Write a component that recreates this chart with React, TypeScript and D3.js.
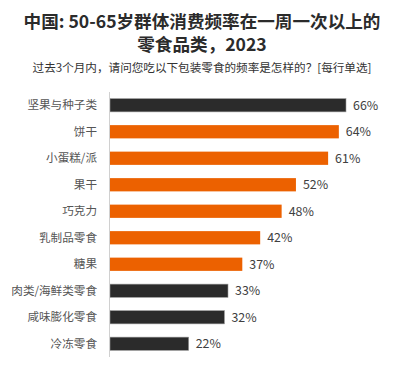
import React from 'react';
import * as d3 from 'd3';

const categories = ['坚果与种子类', '饼干', '小蛋糕/派', '果干', '巧克力', '乳制品零食', '糖果', '肉类/海鲜类零食', '咸味膨化零食', '冷冻零食'];
const values = [66, 64, 61, 52, 48, 42, 37, 33, 32, 22];
const highlighted = [false, true, true, true, true, true, true, false, false, false];

const titleLines = ['中国: 50-65岁群体消费频率在一周一次以上的', '零食品类，2023'];
const subtitle = '过去3个月内，请问您吃以下包装零食的频率是怎样的？[每行单选]';

const W = 405;
const H = 366;
const font = '"Noto Sans CJK SC", "Noto Sans", sans-serif';

export default function App() {
  const x = d3.scaleLinear().domain([0, 66]).range([110, 346]);
  const y = d3.scaleBand<string>().domain(categories).range([92, 357]).paddingInner(0.5).paddingOuter(0.25);

  return (
    <svg width={W} height={H} style={{ position: 'absolute', left: 0, top: 0 }} fontFamily={font}>
      <rect width={W} height={H} fill="#fff" />
      {titleLines.map((t, i) => (
        <text key={i} x={202} y={28 + i * 23} textAnchor="middle" fontSize={17.6} fontWeight="bold" fill="#2b2b2b">
          {t}
        </text>
      ))}
      <text x={202} y={72} textAnchor="middle" fontSize={11.6} fill="#333">
        {subtitle}
      </text>
      {categories.map((c, i) => {
        const yy = y(c)!;
        const bw = y.bandwidth();
        return (
          <g key={c}>
            <rect
              x={x(0)}
              y={yy}
              width={x(values[i]) - x(0)}
              height={bw}
              fill={highlighted[i] ? '#ec6100' : '#2b2b2b'}
              stroke={highlighted[i] ? 'none' : '#999'}
              strokeWidth={0.6}
            />
            <text x={97} y={yy + bw / 2} dy="0.35em" textAnchor="end" fontSize={11.6} fill="#555">
              {c}
            </text>
            <text x={x(values[i]) + 7} y={yy + bw / 2} dy="0.35em" fontSize={12.4} fill="#404040">
              {values[i]}%
            </text>
          </g>
        );
      })}
      <line x1={109.5} x2={109.5} y1={92} y2={357} stroke="#d0d0d0" strokeWidth={1} />
    </svg>
  );
}
